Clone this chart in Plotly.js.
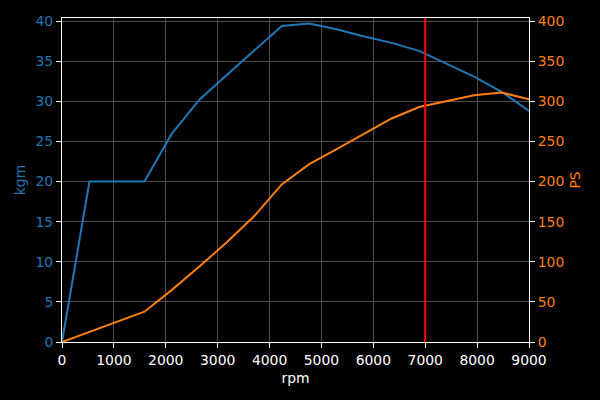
<!DOCTYPE html>
<html>
<head>
<meta charset="utf-8">
<script src="https://cdn.plot.ly/plotly-3.0.1.min.js"></script>
<style>html,body{margin:0;padding:0;background:#000;}#chart{width:600px;height:400px;}</style>
</head>
<body>
<div id="chart"></div>
<script>
const rpm = [0, 529, 1059, 1588, 2118, 2647, 3176, 3706, 4235, 4765, 5294, 5824, 6353, 6882, 7412, 7941, 8471, 9000];
const torqueKgm = [0, 20, 20, 20, 26, 30.2, 33.3, 36.4, 39.4, 39.7, 39.0, 38.1, 37.3, 36.3, 34.7, 33.1, 31.2, 28.8];
const powerPS = [0, 12.6, 25.2, 37.8, 65, 94, 124.4, 157, 196.5, 221.8, 240.6, 259.6, 278.7, 293, 300.3, 307.8, 311, 302.8];
const redlineRpm = 7000;

const blue = '#1f77b4', orange = '#ff7f0e';
const fs = 13.9;
const font = {family: 'DejaVu Sans', size: fs, color: '#ffffff'};

const traces = [
  {x: rpm, y: torqueKgm, type: 'scatter', mode: 'lines', line: {color: blue, width: 2}, yaxis: 'y', showlegend: false},
  {x: rpm, y: powerPS, type: 'scatter', mode: 'lines', line: {color: orange, width: 2}, yaxis: 'y2', showlegend: false}
];

const layout = {
  width: 600, height: 400,
  paper_bgcolor: '#000', plot_bgcolor: '#000',
  font: font,
  margin: {l: 62, r: 71, t: 18, b: 58},
  xaxis: {
    range: [0, 9000], dtick: 1000, tick0: 0,
    showgrid: true, gridcolor: '#4d4d4d', gridwidth: 1,
    showline: true, linecolor: '#ffffff', linewidth: 1, mirror: true,
    ticks: 'outside', ticklen: 5, tickcolor: '#ffffff', tickwidth: 1,
    tickfont: {family: 'DejaVu Sans', size: fs, color: '#ffffff'},
    zeroline: false,
    title: {text: 'rpm', font: {family: 'DejaVu Sans', size: fs, color: '#ffffff'}, standoff: 6}
  },
  yaxis: {
    range: [0, 40.4], dtick: 5, tick0: 0,
    showgrid: true, gridcolor: '#4d4d4d', gridwidth: 1,
    showline: true, linecolor: '#ffffff', linewidth: 1,
    ticks: 'outside', ticklen: 5, tickcolor: '#ffffff', tickwidth: 1,
    tickfont: {family: 'DejaVu Sans', size: fs, color: blue},
    zeroline: false,
    title: {text: 'kgm', font: {family: 'DejaVu Sans', size: fs, color: blue}, standoff: 6}
  },
  yaxis2: {
    range: [0, 404], dtick: 50, tick0: 0,
    overlaying: 'y', side: 'right',
    showgrid: false,
    showline: true, linecolor: '#ffffff', linewidth: 1,
    ticks: 'outside', ticklen: 5, tickcolor: '#ffffff', tickwidth: 1,
    tickfont: {family: 'DejaVu Sans', size: fs, color: orange},
    zeroline: false,
    title: {text: 'PS', font: {family: 'DejaVu Sans', size: fs, color: orange}, standoff: 6}
  },
  shapes: [
    {type: 'line', xref: 'x', yref: 'paper', x0: redlineRpm, x1: redlineRpm, y0: 0, y1: 1, line: {color: '#ff0000', width: 2}}
  ]
};

Plotly.newPlot('chart', traces, layout, {displayModeBar: false, staticPlot: true});
</script>
</body>
</html>
